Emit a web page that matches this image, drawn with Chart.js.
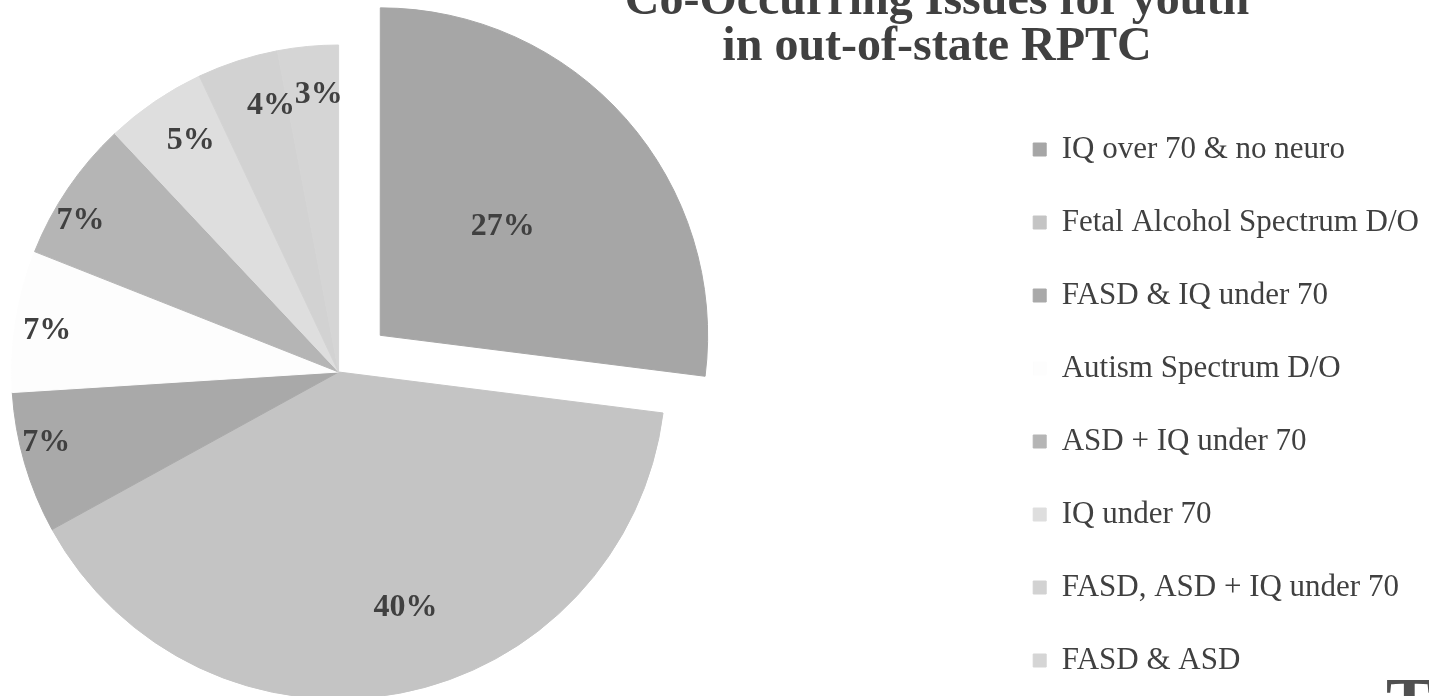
<!DOCTYPE html>
<html>
<head>
<meta charset="utf-8">
<script src="https://cdn.jsdelivr.net/npm/chart.js@4.4.1/dist/chart.umd.min.js"></script>
<style>
  html, body { margin: 0; padding: 0; width: 1429px; height: 696px; overflow: hidden; background: #ffffff; }
  /* canvas runs past the left and bottom edges of the window, like the cropped slide */
  #wrap { position: absolute; left: -314px; top: 0; width: 1743px; height: 718px; }
  #title {
    position: absolute; left: 537px; top: -25px; width: 800px;
    text-align: center; white-space: nowrap; color: #404040;
    font: bold 48px/46px "Liberation Serif", "Times New Roman", serif;
  }
  #corner {
    position: absolute; left: 1386px; top: 668px; color: #505050;
    font: bold 70px/70px "Liberation Serif", "Times New Roman", serif;
  }
</style>
</head>
<body>
<div id="wrap"><canvas id="pie"></canvas></div>
<div id="title">Co-Occurring Issues for youth<br>in out-of-state RPTC</div>
<div id="corner">T</div>
<script>
const categories = [
  'IQ over 70 & no neuro',
  'Fetal Alcohol Spectrum D/O',
  'FASD & IQ under 70',
  'Autism Spectrum D/O',
  'ASD + IQ under 70',
  'IQ under 70',
  'FASD, ASD + IQ under 70',
  'FASD & ASD'
];
const shares = [27, 40, 7, 7, 7, 5, 4, 3];

const sliceColors = ['#a6a6a6', '#c4c4c4', '#a9a9a9', '#fdfdfd', '#b5b5b5', '#dedede', '#d2d2d2', '#d5d5d5'];
// where each percentage sits: fraction of the radius, and fraction across the slice
const labelRadius = [0.5, 0.75, 0.92, 0.9, 0.915, 0.84, 0.84, 0.85];
const labelAngle = [0.5, 0.465, 0.6, 0.46, 0.35, 0.59, 0.76, 0.62];

// percentage labels on the slices
const sliceLabels = {
  id: 'sliceLabels',
  afterDatasetsDraw(chart) {
    const ctx = chart.ctx;
    const meta = chart.getDatasetMeta(0);
    const total = shares.reduce((a, b) => a + b, 0);
    ctx.save();
    ctx.font = 'bold 32px "Liberation Serif", "Times New Roman", serif';
    ctx.fillStyle = '#404040';
    ctx.textAlign = 'center';
    ctx.textBaseline = 'middle';
    meta.data.forEach((arc, i) => {
      const p = arc.getProps(['x', 'y', 'startAngle', 'endAngle', 'outerRadius'], true);
      const mid = (p.startAngle + p.endAngle) / 2;
      const a = p.startAngle + (p.endAngle - p.startAngle) * labelAngle[i];
      const shift = (arc.options.offset || 0) / 4;
      const r = p.outerRadius * labelRadius[i];
      const cx = p.x + Math.cos(mid) * shift;
      const cy = p.y + Math.sin(mid) * shift;
      ctx.fillText(Math.round(shares[i] / total * 100) + '%', cx + Math.cos(a) * r, cy + Math.sin(a) * r);
    });
    ctx.restore();
  }
};

new Chart(document.getElementById('pie'), {
  type: 'pie',
  data: {
    labels: categories,
    datasets: [{
      data: shares,
      backgroundColor: sliceColors,
      borderColor: sliceColors,
      borderWidth: 1,
      radius: 327,
      offset: [222, 0, 0, 0, 0, 0, 0, 0],
      hoverOffset: 0
    }]
  },
  options: {
    responsive: true,
    maintainAspectRatio: false,
    animation: false,
    events: [],
    layout: { padding: { top: 26 } },
    plugins: {
      tooltip: { enabled: false },
      legend: {
        position: 'right',
        align: 'end',
        labels: {
          font: { family: '"Liberation Serif", "Times New Roman", serif', size: 31 },
          color: '#404040',
          boxWidth: 13,
          boxHeight: 13,
          padding: 42
        }
      }
    }
  },
  plugins: [sliceLabels]
});
</script>
</body>
</html>
